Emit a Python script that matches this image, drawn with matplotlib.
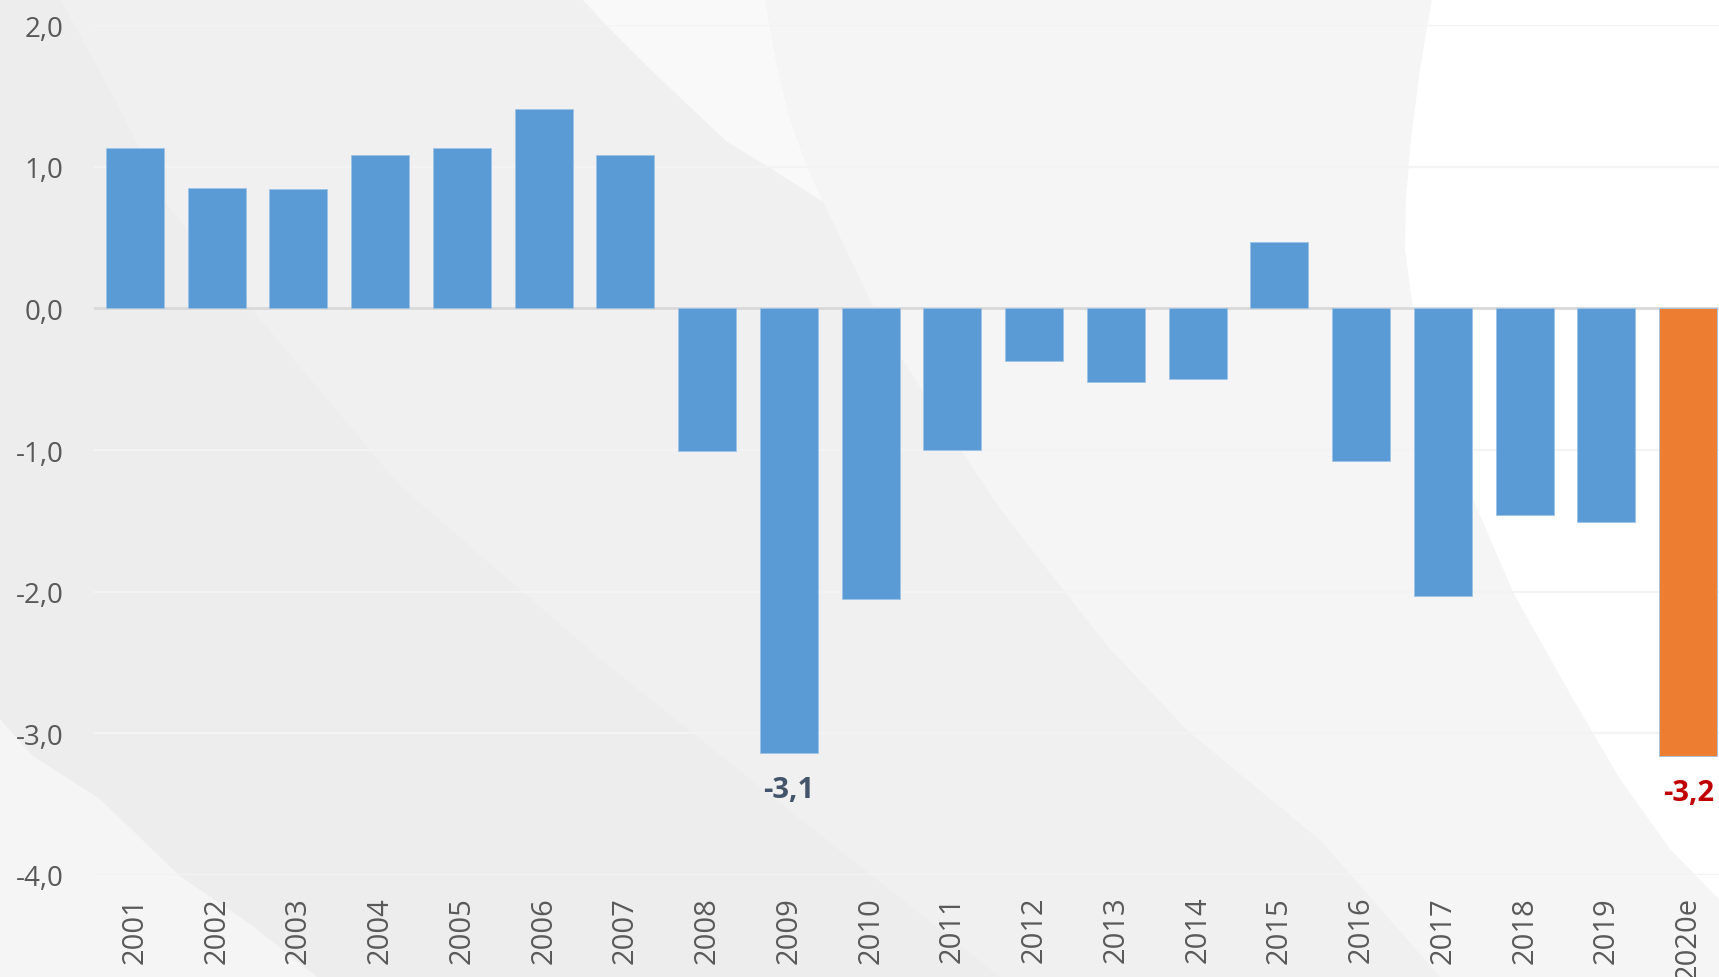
import matplotlib
matplotlib.use("Agg")
import matplotlib.pyplot as plt
from matplotlib.patches import Polygon

# dane
years = ["2001", "2002", "2003", "2004", "2005", "2006", "2007", "2008", "2009", "2010",
         "2011", "2012", "2013", "2014", "2015", "2016", "2017", "2018", "2019", "2020e"]
values = [1.13, 0.85, 0.84, 1.08, 1.13, 1.41, 1.08, -1.01, -3.14, -2.05,
          -1.00, -0.37, -0.52, -0.50, 0.47, -1.08, -2.03, -1.46, -1.51, -3.16]
labelled = ["2009", "2020e"]
label_colors = {"2009": "#44546A", "2020e": "#C00000"}

W, H = 1719, 978
fig = plt.figure(figsize=(W / 100, H / 100), dpi=100)
fig.patch.set_facecolor("#F0F0F0")


def px(points):
    return [(x / W, 1 - y / H) for x, y in points]


# tlo - szare ksztalty
shapes = [
    ("#EDEDED", [(0, 0), (60, 0), (120, 110), (167, 206), (253, 312), (400, 487),
                 (600, 660), (800, 820), (1000, 978), (0, 978)]),
    ("#F5F5F5", [(765, 0), (777, 67), (790, 120), (807, 167), (823, 203), (873, 307),
                 (900, 357), (960, 450), (1000, 510), (1064, 592), (1110, 650),
                 (1188, 732), (1321, 842), (1440, 978), (1719, 978), (1719, 0)]),
    ("#F9F9F9", [(582, 0), (607, 27), (650, 70), (727, 143), (767, 167), (823, 203),
                 (807, 167), (790, 120), (777, 67), (765, 0)]),
    ("#FFFFFF", [(1432, 0), (1420, 70), (1411, 140), (1406, 200), (1405, 250),
                 (1413, 310), (1440, 400), (1473, 500), (1514, 595), (1573, 700),
                 (1620, 780), (1670, 850), (1719, 900), (1719, 0)]),
    ("#F5F5F5", [(0, 720), (33, 757), (100, 800), (180, 877), (250, 925), (317, 978),
                 (0, 978)]),
]
for col, pts in shapes:
    fig.patches.append(Polygon(px(pts), closed=True, transform=fig.transFigure,
                               facecolor=col, edgecolor="none", zorder=-5))

ax = fig.add_axes([94 / W, 1 - 876 / H, (1729 - 94) / W, (876 - 26) / H])
ax.set_facecolor("none")
ax.set_zorder(2)

x = list(range(len(years)))
colors = ["#ED7D31" if y == "2020e" else "#5B9BD5" for y in years]
ax.bar(x, values, width=0.71, color=colors, edgecolor="#9DC3E6", linewidth=0.6, zorder=3)

ax.set_ylim(-4, 2)
ax.set_xlim(-0.5, len(years) - 0.5)
ax.set_yticks([-4, -3, -2, -1, 0, 1, 2])
ax.set_yticklabels([f"{t:.1f}".replace(".", ",") for t in [-4, -3, -2, -1, 0, 1, 2]])
ax.grid(axis="y", color="#F3F3F3", linewidth=1.6, zorder=1)
ax.set_axisbelow(True)
ax.axhline(0, color="#D9D9D9", linewidth=2, zorder=2)

ax.set_xticks(x)
ax.set_xticklabels(years, rotation=90)
for s in ax.spines.values():
    s.set_visible(False)
ax.tick_params(axis="both", length=0, colors="#595959")
ax.tick_params(axis="y", pad=22, labelsize=20)
ax.tick_params(axis="x", pad=15, labelsize=21)
for t in ax.get_xticklabels() + ax.get_yticklabels():
    t.set_fontfamily("Open Sans")

# etykiety wartosci
for i, y in enumerate(years):
    if y in labelled:
        v = values[i]
        ax.annotate(f"{v:.1f}".replace(".", ","), (i, v), xytext=(0, -16),
                    textcoords="offset points", ha="center", va="top",
                    fontsize=21, fontweight="bold", color=label_colors[y],
                    family="Open Sans", zorder=4)

fig.savefig("out.png", dpi=100, facecolor=fig.get_facecolor())
